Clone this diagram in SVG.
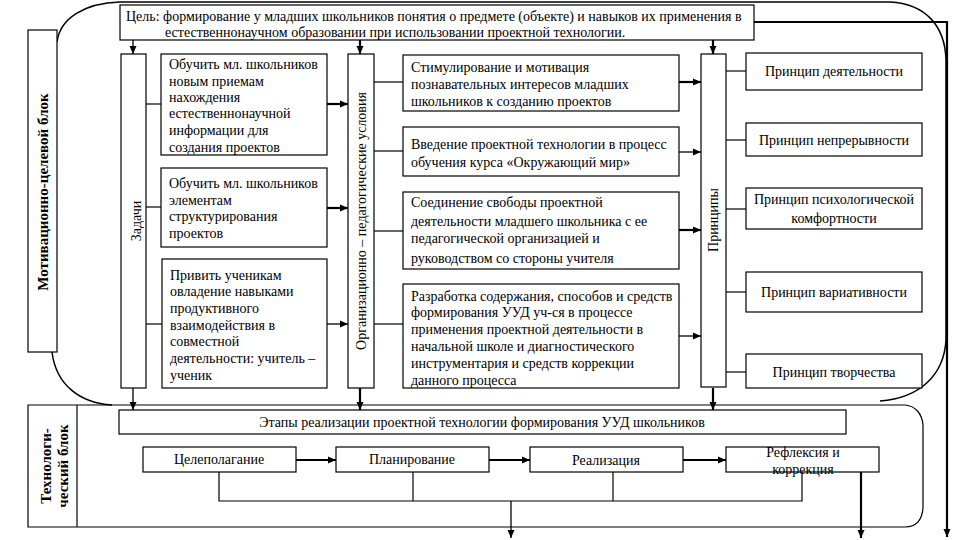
<svg xmlns="http://www.w3.org/2000/svg" width="960" height="540" viewBox="0 0 960 540" font-family="'Liberation Serif', 'DejaVu Serif', serif">
<defs>
<marker id="ah" markerUnits="userSpaceOnUse" markerWidth="8" markerHeight="8" viewBox="0 0 8 8" refX="8" refY="4" orient="auto">
<path d="M0,0.5 L8,4 L0,7.5 Z" fill="#000"/>
</marker>
<style>
rect.b{fill:#fff;stroke:#000;stroke-width:1.2}
.ln{fill:none;stroke:#000;stroke-width:1.2}
.ar{fill:none;stroke:#000;stroke-width:1.3;marker-end:url(#ah)}
.ak{fill:none;stroke:#000;stroke-width:2.2;marker-end:url(#ah)}
.fr{fill:none;stroke:#000;stroke-width:1.5}
text{font-family:'Liberation Serif','DejaVu Serif',serif;font-size:14px;fill:#000}
.c{text-anchor:middle}
.lb{font-size:15px;font-weight:bold;text-anchor:middle}
</style>
</defs>
<rect width="960" height="540" fill="#fff"/>

<g id="frames">
<path class="fr" d="M57,42 C60,18 85,3 120,2 L890,2 C925,4 945,25 946,60 L946,340 C944,375 920,398 880,401"/>
<path class="fr" d="M52,352 C56,385 80,403 112,405"/>
<path class="ln" d="M28,405 L905,405 C916,406 922,414 923,425 L923,508 C922,520 916,527 905,527 L28,527 Z"/>
<line class="ln" x1="77" y1="405" x2="77" y2="527"/>
</g>

<g id="connectors">
<line class="ar" x1="133" y1="40" x2="133" y2="54"/>
<line class="ak" x1="360" y1="40" x2="360" y2="54"/>
<line class="ak" x1="713" y1="40" x2="713" y2="54"/>
<polyline class="ak" points="754,22 947,22 947,537"/>
<line class="ln" x1="146" y1="104" x2="161" y2="104"/>
<line class="ln" x1="146" y1="207" x2="161" y2="207"/>
<line class="ln" x1="146" y1="324" x2="162" y2="324"/>
<line class="ak" x1="327" y1="104" x2="348" y2="104"/>
<line class="ak" x1="327" y1="208" x2="348" y2="208"/>
<line class="ar" x1="327" y1="324" x2="348" y2="324"/>
<line class="ln" x1="374" y1="82" x2="403" y2="82"/>
<line class="ln" x1="374" y1="151" x2="403" y2="151"/>
<line class="ln" x1="374" y1="231" x2="403" y2="231"/>
<line class="ln" x1="374" y1="324" x2="403" y2="324"/>
<line class="ak" x1="679" y1="82" x2="701" y2="82"/>
<line class="ar" x1="679" y1="152" x2="701" y2="152"/>
<line class="ak" x1="679" y1="230" x2="701" y2="230"/>
<line class="ar" x1="679" y1="336" x2="701" y2="336"/>
<line class="ln" x1="726" y1="71" x2="746" y2="71"/>
<line class="ln" x1="726" y1="140" x2="746" y2="140"/>
<line class="ln" x1="726" y1="209" x2="746" y2="209"/>
<line class="ln" x1="726" y1="292" x2="746" y2="292"/>
<line class="ln" x1="726" y1="372" x2="746" y2="372"/>
<line class="ar" x1="133" y1="388" x2="133" y2="410"/>
<line class="ak" x1="360" y1="388" x2="360" y2="410"/>
<line class="ak" x1="713" y1="388" x2="713" y2="410"/>
<line class="ak" x1="296" y1="460" x2="336" y2="460"/>
<line class="ak" x1="489" y1="460" x2="530" y2="460"/>
<line class="ak" x1="683" y1="460" x2="726" y2="460"/>
<polyline class="ln" points="219,472 219,501 802,501 802,472"/>
<line class="ln" x1="413" y1="472" x2="413" y2="501"/>
<line class="ln" x1="613" y1="472" x2="613" y2="501"/>
<line class="ar" x1="511" y1="501" x2="511" y2="538"/>
<line class="ak" x1="861" y1="472" x2="861" y2="538"/>
</g>

<g id="label-motiv">
<rect class="b" x="28" y="30" width="29" height="322"/>
<text class="lb" transform="translate(48,192) rotate(-90)">Мотивационно-целевой блок</text>
</g>

<g id="label-tech">
<text class="lb" transform="translate(51,466) rotate(-90)">Технологи-</text>
<text class="lb" transform="translate(68,466) rotate(-90)">ческий блок</text>
</g>

<g id="goal">
<rect class="b" x="120" y="5" width="634" height="35"/>
<text x="126" y="21">Цель: формирование у младших школьников понятия о предмете (объекте) и навыков их применения в</text>
<text x="165" y="37">естественнонаучном образовании при использовании проектной технологии.</text>
</g>

<g id="tasks">
<rect class="b" x="121" y="54" width="25" height="334"/>
<text class="c" transform="translate(141,221) rotate(-90)">Задачи</text>
</g>

<g id="task1">
<rect class="b" x="161" y="54" width="166" height="101"/>
<text x="169" y="69">Обучить мл. школьников</text>
<text x="169" y="86">новым приемам</text>
<text x="169" y="102">нахождения</text>
<text x="169" y="118">естественнонаучной</text>
<text x="169" y="135">информации для</text>
<text x="169" y="152">создания проектов</text>
</g>

<g id="task2">
<rect class="b" x="161" y="168" width="166" height="79"/>
<text x="169" y="188">Обучить мл. школьников</text>
<text x="169" y="205">элементам</text>
<text x="169" y="221">структурирования</text>
<text x="169" y="238">проектов</text>
</g>

<g id="task3">
<rect class="b" x="162" y="259" width="165" height="129"/>
<text x="170" y="280">Привить ученикам</text>
<text x="170" y="296">овладение навыками</text>
<text x="170" y="313">продуктивного</text>
<text x="170" y="330">взаимодействия в</text>
<text x="170" y="346">совместной</text>
<text x="170" y="363">деятельности: учитель –</text>
<text x="170" y="380">ученик</text>
</g>

<g id="conditions">
<rect class="b" x="348" y="54" width="26" height="334"/>
<text class="c" transform="translate(366,221) rotate(-90)">Организационно – педагогические условия</text>
</g>

<g id="cond1">
<rect class="b" x="403" y="55" width="276" height="56"/>
<text x="411" y="72">Стимулирование и мотивация</text>
<text x="411" y="89">познавательных интересов младших</text>
<text x="411" y="106">школьников к созданию проектов</text>
</g>

<g id="cond2">
<rect class="b" x="403" y="127" width="276" height="49"/>
<text x="411" y="149">Введение проектной технологии в процесс</text>
<text x="411" y="167">обучения курса «Окружающий мир»</text>
</g>

<g id="cond3">
<rect class="b" x="403" y="192" width="276" height="77"/>
<text x="411" y="207">Соединение свободы проектной</text>
<text x="411" y="226">деятельности младшего школьника с ее</text>
<text x="411" y="243">педагогической организацией и</text>
<text x="411" y="263">руководством со стороны учителя</text>
</g>

<g id="cond4">
<rect class="b" x="403" y="284" width="276" height="104"/>
<text x="411" y="301">Разработка содержания, способов и средств</text>
<text x="411" y="317">формирования УУД уч-ся в процессе</text>
<text x="411" y="334">применения проектной деятельности в</text>
<text x="411" y="351">начальной школе и диагностического</text>
<text x="411" y="368">инструментария и средств коррекции</text>
<text x="411" y="385">данного процесса</text>
</g>

<g id="principles">
<rect class="b" x="701" y="54" width="25" height="333"/>
<text class="c" transform="translate(718,220) rotate(-90)">Принципы</text>
</g>

<g id="pr1">
<rect class="b" x="746" y="53" width="176" height="37"/>
<text class="c" x="834" y="76">Принцип деятельности</text>
</g>
<g id="pr2">
<rect class="b" x="746" y="123" width="176" height="33"/>
<text class="c" x="834" y="145">Принцип непрерывности</text>
</g>
<g id="pr3">
<rect class="b" x="746" y="188" width="176" height="41"/>
<text class="c" x="834" y="204">Принцип психологической</text>
<text class="c" x="834" y="223">комфортности</text>
</g>
<g id="pr4">
<rect class="b" x="746" y="272" width="176" height="40"/>
<text class="c" x="834" y="297">Принцип вариативности</text>
</g>
<g id="pr5">
<rect class="b" x="746" y="354" width="176" height="34"/>
<text class="c" x="834" y="377">Принцип творчества</text>
</g>

<g id="stages">
<rect class="b" x="119" y="410" width="727" height="24"/>
<text class="c" x="482" y="427">Этапы реализации проектной технологии формирования УУД школьников</text>
</g>

<g id="st1">
<rect class="b" x="143" y="447" width="153" height="25"/>
<text class="c" x="219" y="464">Целеполагание</text>
</g>
<g id="st2">
<rect class="b" x="336" y="447" width="153" height="25"/>
<text class="c" x="412" y="464">Планирование</text>
</g>
<g id="st3">
<rect class="b" x="530" y="447" width="153" height="25"/>
<text class="c" x="606" y="465">Реализация</text>
</g>
<g id="st4">
<rect class="b" x="726" y="447" width="153" height="25"/>
<text class="c" x="803" y="457">Рефлексия и</text>
<text class="c" x="803" y="474">коррекция</text>
</g>
</svg>
